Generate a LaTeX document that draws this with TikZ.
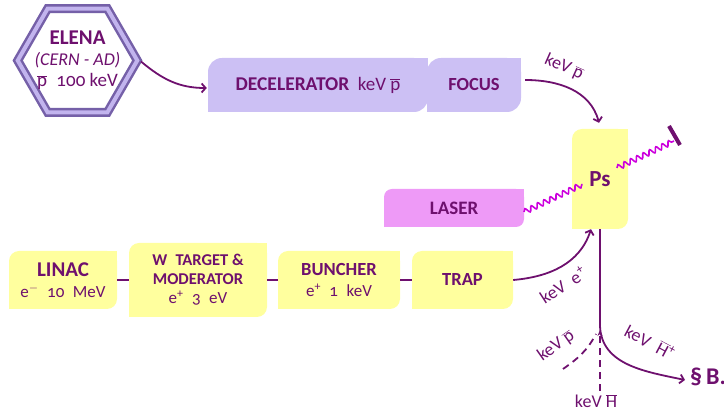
\documentclass[tikz,border=0pt]{standalone}
\usepackage{fontspec}
\setmainfont{Carlito}[Numbers=OldStyle]
\usetikzlibrary{arrows.meta,decorations.pathmorphing,shapes.geometric,calc}
\definecolor{tp}{HTML}{6E106E}
\definecolor{lav}{HTML}{CCC0F4}
\definecolor{yel}{HTML}{FFFF9E}
\definecolor{laserc}{HTML}{EE9AF7}
\definecolor{wavec}{HTML}{CC00DD}
\definecolor{hexd}{HTML}{7560A8}
\definecolor{hexl}{HTML}{C2B4EE}
\newcommand\mypbar{$\overline{\mbox{p}}$}
\newcommand\myHbar{$\overline{\mbox{H}}$}
\newcommand\sqcorners[3]{\fill[#2] (#1.north east) rectangle ++(-#3,-#3); \fill[#2] (#1.south west) rectangle ++(#3,#3);}
\begin{document}
\begin{tikzpicture}[x=1pt,y=1pt,
  box/.style={rounded corners=#1, inner sep=0pt, align=center, text=tp, font=\fontsize{17}{20}\selectfont},
  lab/.style={text=tp, font=\fontsize{18}{20}\selectfont, inner sep=1pt},
  conn/.style={draw=tp, line width=1.8pt},
  arr/.style={conn, -{Straight Barb[length=4pt,width=9pt]}},
  hexb/.style={draw=hexd, double=hexl, double distance=4pt, line width=2.5pt, fill=white, line join=miter},
  wav/.style={draw=wavec, line width=1.6pt, decorate, decoration={snake, amplitude=2.6pt, segment length=7pt}}]
\useasboundingbox (0,0) rectangle (724,412);

% ELENA hexagon
\draw[hexb] (77.5,351.5) ++(0:59.8) -- ++(120:59.8) -- ++(180:59.8) -- ++(240:59.8) -- ++(300:59.8) -- ++(0:59.8) -- cycle;
\node[align=center, text=tp, font=\fontsize{18}{21}\selectfont, inner sep=0pt] (elena) at (77.5,351.5)
      {{\fontsize{21}{21}\selectfont\bfseries ELENA}\\ \textit{(CERN - AD)}\\ {\fontsize{19}{21}\selectfont\mypbar\enspace 100 keV}};
\coordinate (hexr) at (141,350.5);

% top row
\node[box=14, fill=lav, minimum width=220pt, minimum height=54pt] (decel) at (318,327)
  {{\fontsize{19.5}{20}\selectfont\bfseries DECELERATOR}\enspace{\fontsize{19}{20}\selectfont keV \mypbar}};
\node[box=14, fill=lav, minimum width=94pt, minimum height=54pt] (focus) at (474,327)
  {\fontsize{18.5}{20}\selectfont\bfseries FOCUS};
\sqcorners{decel}{lav}{14}
\sqcorners{focus}{lav}{14}

% Ps and laser
\node[box=10, fill=yel, minimum width=56pt, minimum height=100pt] (ps) at (600,233)
  {\fontsize{23}{26}\selectfont\bfseries Ps};
\sqcorners{ps}{yel}{10}
\node[box=8, fill=laserc, minimum width=140pt, minimum height=38pt] (laser) at (454,204)
  {\fontsize{19}{20}\selectfont\bfseries LASER};
\sqcorners{laser}{laserc}{8}

% bottom row
\node[box=10, fill=yel, minimum width=108pt, minimum height=58pt, font=\fontsize{17}{21}\selectfont] (linac) at (63,132)
  {{\fontsize{21}{21}\selectfont\bfseries LINAC}\\ e$^{-}$\enspace 10\enspace MeV};
\node[box=10, fill=yel, minimum width=138pt, minimum height=74pt, font=\fontsize{16.5}{19}\selectfont] (wt) at (198,132)
  {\bfseries W\enspace TARGET \&\\ \bfseries MODERATOR\\ {\fontsize{17}{19}\selectfont e\textsuperscript{+}\enspace 3\enspace eV}};
\node[box=10, fill=yel, minimum width=122pt, minimum height=58pt, font=\fontsize{17}{21}\selectfont] (bun) at (339,132)
  {{\fontsize{18.5}{21}\selectfont\bfseries BUNCHER}\\ e\textsuperscript{+}\enspace 1\enspace keV};
\node[box=10, fill=yel, minimum width=101pt, minimum height=58pt] (trap) at (462.5,132)
  {\fontsize{18.5}{21}\selectfont\bfseries TRAP};
\sqcorners{linac}{yel}{10}
\sqcorners{wt}{yel}{10}
\sqcorners{bun}{yel}{10}
\sqcorners{trap}{yel}{10}

\draw[conn] (linac) -- (wt);
\draw[conn] (wt) -- (bun);
\draw[conn] (bun) -- (trap);

% connectors
\draw[arr] (hexr) to[out=-40, in=180] ($(decel.west)+(-1,-3)$);
\draw[arr] ($(focus.east)+(4,5)$) to[out=0, in=105] ($(ps.north)+(-1,6)$);
\node[lab, rotate=-24] (lp1) at (564,345) {keV \mypbar};
\draw[arr] (trap.east) to[out=5, in=-108] ($(ps.south)+(-9,0)$);
\node[lab, rotate=33] (le) at (563,127) {keV\enspace e\textsuperscript{+}};

% laser waves
\coordinate (w0) at (524,200);
\coordinate (w3) at (674,271);
\draw[wav] (w0) -- ($(w0)!0.39!(w3)$);
\draw[wav] ($(w0)!0.62!(w3)$) -- (w3);
\coordinate (bar1) at (669,286);
\coordinate (bar2) at (680,267);
\draw[draw=tp, line width=4pt] (bar1) -- (bar2);

% lower junction
\coordinate (jn) at (600,86);
\node[lab] (hbar) at (596,11) {keV \myHbar};
\node[text=tp, font=\fontsize{24}{26}\selectfont\bfseries, anchor=west, inner sep=0pt] (secb) at (690,35) {\S\,B.};
\draw[conn] (ps.south) -- (jn);
\draw[arr] (jn) to[out=-88, in=168] ($(secb.west)+(-5,-3)$);
\draw[conn, dash pattern=on 7pt off 5pt, -{Stealth[length=6pt,width=5pt]}] ($(hbar.north)+(4,2)$) -- ($(jn)+(0,-4)$);
\coordinate (pd) at (563,43);
\draw[conn, dash pattern=on 7pt off 5pt] (pd) to[out=35, in=-118] ($(jn)+(-4,-8)$);
\node[lab, rotate=35] (lp2) at (556,66) {keV \mypbar};
\node[lab, rotate=-28] (lh) at (650,70) {keV\enspace \myHbar\textsuperscript{+}};
\end{tikzpicture}
\end{document}
